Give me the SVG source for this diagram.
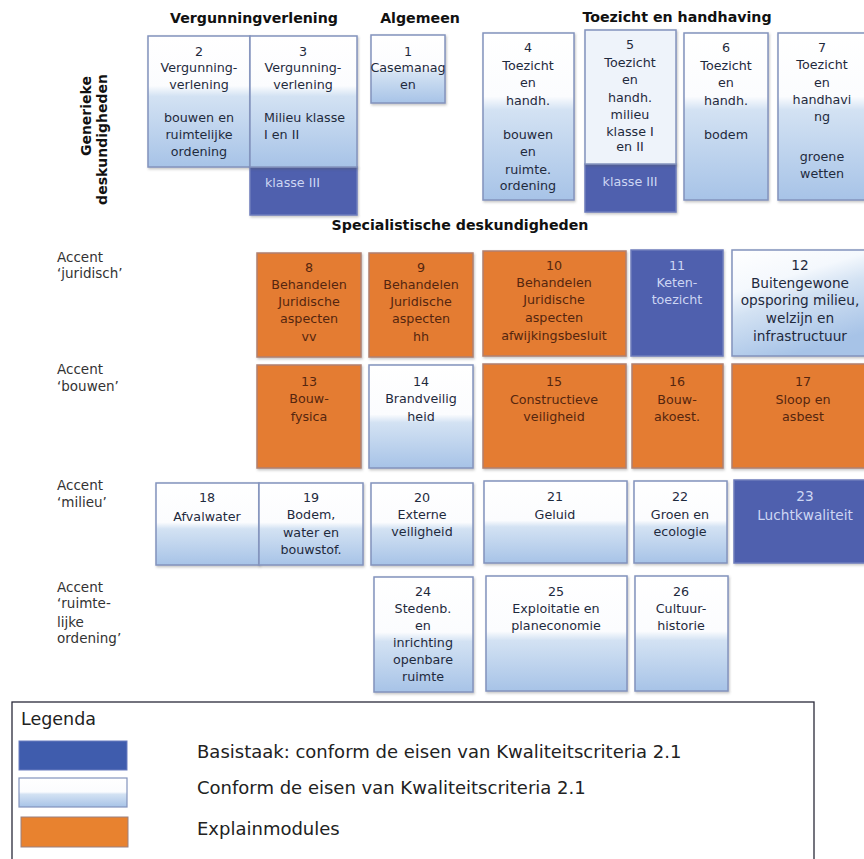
<svg xmlns="http://www.w3.org/2000/svg" width="864" height="859" viewBox="0 0 864 859">
<defs>
<linearGradient id="wg" x1="0" y1="0" x2="0" y2="1">
<stop offset="0" stop-color="#ffffff"/>
<stop offset="0.48" stop-color="#fbfcfe"/>
<stop offset="0.56" stop-color="#d3e2f3"/>
<stop offset="1" stop-color="#a7c3e7"/>
</linearGradient>
<linearGradient id="wgt" x1="0" y1="0" x2="0" y2="1">
<stop offset="0" stop-color="#ffffff"/>
<stop offset="0.38" stop-color="#fbfcfe"/>
<stop offset="0.46" stop-color="#d3e2f3"/>
<stop offset="1" stop-color="#a7c3e7"/>
</linearGradient>
<linearGradient id="wgd" x1="0" y1="0" x2="0.4" y2="1">
<stop offset="0" stop-color="#ffffff"/>
<stop offset="0.35" stop-color="#f4f8fd"/>
<stop offset="0.55" stop-color="#d3e2f3"/>
<stop offset="1" stop-color="#a7c3e7"/>
</linearGradient>
<filter id="sh" x="-5%" y="-5%" width="115%" height="115%">
<feDropShadow dx="1" dy="1.5" stdDeviation="1" flood-color="#555" flood-opacity="0.35"/>
</filter>
<style>
.w{fill:url(#wg);stroke:#8393bd;stroke-width:1.5;filter:url(#sh)}
.wt{fill:url(#wgt);stroke:#8393bd;stroke-width:1.5;filter:url(#sh)}
.o{fill:#e47b31;stroke:#b08070;stroke-width:1.5;filter:url(#sh)}
.b{fill:#5060ae;stroke:#6d7cbc;stroke-width:1.5;filter:url(#sh)}
text{font-family:"DejaVu Sans","Liberation Sans",sans-serif}
.t{font-size:12.7px;fill:#1f2a3d;text-anchor:middle}
.tl{font-size:12.7px;fill:#1f2a3d}
.to{font-size:12.7px;fill:#55260f;text-anchor:middle}
.tb{font-size:12.7px;fill:#cdd6f3;text-anchor:middle}
.tbl{font-size:12.7px;fill:#cdd6f3}
.big{font-size:13.7px}
.h{font-size:14.2px;font-weight:bold;fill:#111;text-anchor:middle}
.a{font-size:13.5px;fill:#333}
.lg{font-size:18px;fill:#222}
</style>
</defs>

<g id="headers">
<text class="h" x="254" y="23">Vergunningverlening</text>
<text class="h" x="420" y="23">Algemeen</text>
<text class="h" x="677" y="22">Toezicht en handhaving</text>
<text class="h" x="460" y="230">Specialistische deskundigheden</text>
<text class="h" transform="translate(91,76) rotate(-90)" style="text-anchor:end;font-size:14px">Generieke</text>
<text class="h" transform="translate(107,74) rotate(-90)" style="text-anchor:end;font-size:14px">deskundigheden</text>
</g>

<g id="accents">
<text class="a" x="57" y="262">Accent</text>
<text class="a" x="57" y="278">‘juridisch’</text>
<text class="a" x="57" y="374">Accent</text>
<text class="a" x="57" y="391">‘bouwen’</text>
<text class="a" x="57" y="490">Accent</text>
<text class="a" x="57" y="507">‘milieu’</text>
<text class="a" x="57" y="592">Accent</text>
<text class="a" x="57" y="608">‘ruimte-</text>
<text class="a" x="57" y="627">lijke</text>
<text class="a" x="57" y="643">ordening’</text>
</g>

<g id="connectors"></g>

<g id="node2">
<rect class="wt" x="148" y="36" width="102" height="131"/>
<text class="t" x="199" y="56">2</text>
<text class="t" x="199" y="72">Vergunning-</text>
<text class="t" x="199" y="89">verlening</text>
<text class="t" x="199" y="122">bouwen en</text>
<text class="t" x="199" y="139">ruimtelijke</text>
<text class="t" x="199" y="156">ordening</text>
</g>
<g id="node3">
<rect class="b" x="250" y="167" width="107" height="48"/>
<rect class="wt" x="250" y="36" width="107" height="131"/>
<text class="t" x="303" y="56">3</text>
<text class="t" x="303" y="72">Vergunning-</text>
<text class="t" x="303" y="89">verlening</text>
<text class="tl" x="264" y="122">Milieu klasse</text>
<text class="tl" x="264" y="139">I en II</text>
<text class="tbl" x="265" y="187">klasse III</text>
</g>
<g id="node1">
<rect class="w" x="371" y="35" width="74" height="68"/>
<text class="t" x="408" y="56">1</text>
<text class="t" x="408" y="72">Casemanag</text>
<text class="t" x="408" y="89">en</text>
</g>
<g id="node4">
<rect class="wt" x="483" y="33" width="91" height="167"/>
<text class="t" x="528" y="52">4</text>
<text class="t" x="528" y="70">Toezicht</text>
<text class="t" x="528" y="87">en</text>
<text class="t" x="528" y="105">handh.</text>
<text class="t" x="528" y="139">bouwen</text>
<text class="t" x="528" y="156">en</text>
<text class="t" x="528" y="174">ruimte.</text>
<text class="t" x="528" y="190">ordening</text>
</g>
<g id="node5">
<rect class="b" x="585" y="164" width="91" height="48"/>
<rect class="w" x="585" y="30" width="91" height="134" style="fill:#eef3fa"/>
<text class="t" x="630" y="49">5</text>
<text class="t" x="630" y="67">Toezicht</text>
<text class="t" x="630" y="84">en</text>
<text class="t" x="630" y="102">handh.</text>
<text class="t" x="630" y="119">milieu</text>
<text class="t" x="630" y="136">klasse I</text>
<text class="t" x="630" y="151">en II</text>
<text class="tb" x="630" y="186">klasse III</text>
</g>
<g id="node6">
<rect class="wt" x="684" y="33" width="84" height="167"/>
<text class="t" x="726" y="52">6</text>
<text class="t" x="726" y="70">Toezicht</text>
<text class="t" x="726" y="87">en</text>
<text class="t" x="726" y="105">handh.</text>
<text class="t" x="726" y="139">bodem</text>
</g>
<g id="node7">
<rect class="wt" x="778" y="33" width="94" height="167"/>
<text class="t" x="822" y="52">7</text>
<text class="t" x="822" y="69">Toezicht</text>
<text class="t" x="822" y="87">en</text>
<text class="t" x="822" y="104">handhavi</text>
<text class="t" x="822" y="121">ng</text>
<text class="t" x="822" y="161">groene</text>
<text class="t" x="822" y="178">wetten</text>
</g>

<g id="node8">
<rect class="o" x="257" y="253" width="104" height="104"/>
<text class="to" x="309" y="272">8</text>
<text class="to" x="309" y="289">Behandelen</text>
<text class="to" x="309" y="306">Juridische</text>
<text class="to" x="309" y="323">aspecten</text>
<text class="to" x="309" y="341">vv</text>
</g>
<g id="node9">
<rect class="o" x="369" y="253" width="104" height="104"/>
<text class="to" x="421" y="272">9</text>
<text class="to" x="421" y="289">Behandelen</text>
<text class="to" x="421" y="306">Juridische</text>
<text class="to" x="421" y="323">aspecten</text>
<text class="to" x="421" y="341">hh</text>
</g>
<g id="node10">
<rect class="o" x="483" y="251" width="143" height="105"/>
<text class="to" x="554" y="270">10</text>
<text class="to" x="554" y="287">Behandelen</text>
<text class="to" x="554" y="304">Juridische</text>
<text class="to" x="554" y="322">aspecten</text>
<text class="to" x="554" y="340">afwijkingsbesluit</text>
</g>
<g id="node11">
<rect class="b" x="631" y="250" width="92" height="106"/>
<text class="tb" x="677" y="270">11</text>
<text class="tb" x="677" y="287">Keten-</text>
<text class="tb" x="677" y="304">toezicht</text>
</g>
<g id="node12">
<rect class="w" x="732" y="250" width="140" height="106" style="fill:url(#wgd)"/>
<text class="t big" x="800" y="270">12</text>
<text class="t big" x="800" y="288">Buitengewone</text>
<text class="t big" x="800" y="305">opsporing milieu,</text>
<text class="t big" x="800" y="323">welzijn en</text>
<text class="t big" x="800" y="341">infrastructuur</text>
</g>

<g id="node13">
<rect class="o" x="257" y="365" width="104" height="103"/>
<text class="to" x="309" y="386">13</text>
<text class="to" x="309" y="403">Bouw-</text>
<text class="to" x="309" y="421">fysica</text>
</g>
<g id="node14">
<rect class="w" x="369" y="365" width="104" height="103"/>
<text class="t" x="421" y="386">14</text>
<text class="t" x="421" y="403">Brandveilig</text>
<text class="t" x="421" y="421">heid</text>
</g>
<g id="node15">
<rect class="o" x="483" y="364" width="143" height="104"/>
<text class="to" x="554" y="386">15</text>
<text class="to" x="554" y="404">Constructieve</text>
<text class="to" x="554" y="421">veiligheid</text>
</g>
<g id="node16">
<rect class="o" x="632" y="364" width="91" height="104"/>
<text class="to" x="677" y="386">16</text>
<text class="to" x="677" y="404">Bouw-</text>
<text class="to" x="677" y="421">akoest.</text>
</g>
<g id="node17">
<rect class="o" x="732" y="364" width="140" height="104"/>
<text class="to" x="803" y="386">17</text>
<text class="to" x="803" y="404">Sloop en</text>
<text class="to" x="803" y="421">asbest</text>
</g>

<g id="node18">
<rect class="w" x="156" y="483" width="103" height="82"/>
<text class="t" x="207" y="502">18</text>
<text class="t" x="207" y="521">Afvalwater</text>
</g>
<g id="node19">
<rect class="w" x="259" y="483" width="104" height="82"/>
<text class="t" x="311" y="502">19</text>
<text class="t" x="311" y="519">Bodem,</text>
<text class="t" x="311" y="537">water en</text>
<text class="t" x="311" y="554">bouwstof.</text>
</g>
<g id="node20">
<rect class="w" x="371" y="483" width="102" height="82"/>
<text class="t" x="422" y="502">20</text>
<text class="t" x="422" y="519">Externe</text>
<text class="t" x="422" y="536">veiligheid</text>
</g>
<g id="node21">
<rect class="w" x="484" y="481" width="143" height="82"/>
<text class="t" x="555" y="501">21</text>
<text class="t" x="555" y="519">Geluid</text>
</g>
<g id="node22">
<rect class="w" x="634" y="481" width="93" height="82"/>
<text class="t" x="680" y="501">22</text>
<text class="t" x="680" y="519">Groen en</text>
<text class="t" x="680" y="536">ecologie</text>
</g>
<g id="node23">
<rect class="b" x="734" y="480" width="138" height="83"/>
<text class="tb big" x="805" y="501">23</text>
<text class="tb big" x="805" y="520">Luchtkwaliteit</text>
</g>

<g id="node24">
<rect class="w" x="374" y="577" width="99" height="115"/>
<text class="t" x="423" y="596">24</text>
<text class="t" x="423" y="613">Stedenb.</text>
<text class="t" x="423" y="630">en</text>
<text class="t" x="423" y="647">inrichting</text>
<text class="t" x="423" y="664">openbare</text>
<text class="t" x="423" y="681">ruimte</text>
</g>
<g id="node25">
<rect class="w" x="486" y="576" width="141" height="115"/>
<text class="t" x="556" y="596">25</text>
<text class="t" x="556" y="613">Exploitatie en</text>
<text class="t" x="556" y="630">planeconomie</text>
</g>
<g id="node26">
<rect class="w" x="635" y="576" width="93" height="115"/>
<text class="t" x="681" y="596">26</text>
<text class="t" x="681" y="613">Cultuur-</text>
<text class="t" x="681" y="630">historie</text>
</g>

<g id="legend">
<rect x="12" y="702" width="802" height="170" fill="#fff" stroke="#2a2a3a" stroke-width="1.3"/>
<text class="lg" x="21" y="725" style="font-size:17.5px">Legenda</text>
<rect x="19" y="741" width="108" height="29" fill="#3f5cad" stroke="#6a7cc0" stroke-width="1"/>
<rect x="19" y="778" width="108" height="29" fill="url(#wg)" stroke="#8393bd" stroke-width="1.2"/>
<rect x="21" y="817" width="107" height="30" fill="#e8822f" stroke="#9a8080" stroke-width="1"/>
<text class="lg" x="197" y="758">Basistaak: conform de eisen van Kwaliteitscriteria 2.1</text>
<text class="lg" x="197" y="794">Conform de eisen van Kwaliteitscriteria 2.1</text>
<text class="lg" x="197" y="835">Explainmodules</text>
</g>
</svg>
